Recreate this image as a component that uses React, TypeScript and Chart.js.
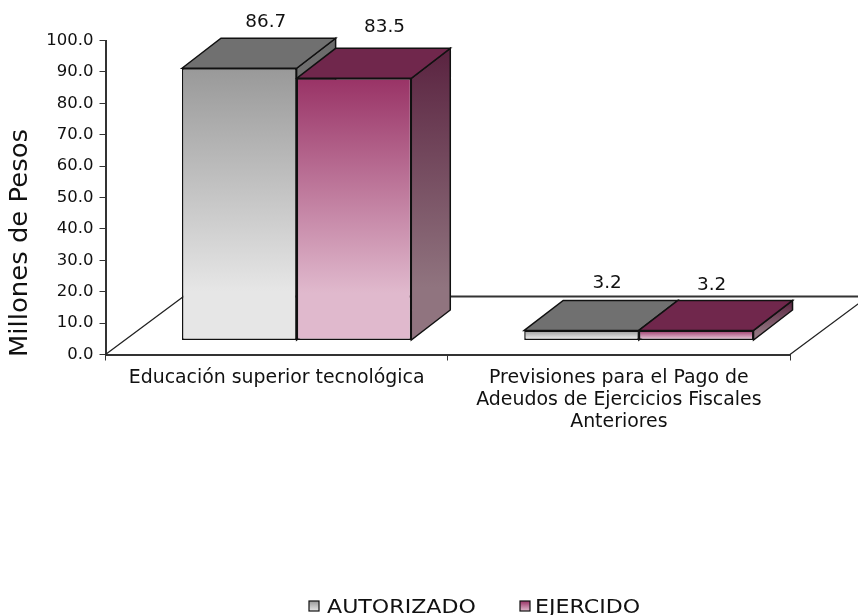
import React, { useEffect, useRef } from "react";
import { Chart, registerables } from "chart.js";

Chart.register(...registerables);

const categories = [
  "Educación superior tecnológica",
  ["Previsiones para el Pago de", "Adeudos de Ejercicios Fiscales", "Anteriores"],
];
const autorizado = [86.7, 3.2];
const ejercido = [83.5, 3.2];
const seriesNames = ["AUTORIZADO", "EJERCIDO"];
const yTitle = "Millones de Pesos";

const FONT = '"DejaVu Sans", sans-serif';
const SHIFT_X = 20;
const SHIFT_Y = -14;
const DEPTH_X = 39;
const DEPTH_Y = -30;
const FLOOR_X = 78;
const FLOOR_Y = -58;
const labelNudge = [
  [[7, 0], [6, -1]],
  [[11, -5], [-4, 1]],
];

const palette = [
  { top: "#707070", front: ["#999999", "#e6e6e6"], side: ["#6a6a6a", "#909090"] },
  { top: "#70274c", front: ["#993366", "#e0b9cd"], side: ["#5a2340", "#90747f"] },
];

function grad(ctx: CanvasRenderingContext2D, y0: number, y1: number, c: string[]) {
  const g = ctx.createLinearGradient(0, y0, 0, y1);
  g.addColorStop(0, c[0]);
  g.addColorStop(0.82, c[1]);
  g.addColorStop(1, c[1]);
  return g;
}

function poly(ctx: CanvasRenderingContext2D, pts: number[][], fill: any) {
  ctx.beginPath();
  pts.forEach((p, i) => (i ? ctx.lineTo(p[0], p[1]) : ctx.moveTo(p[0], p[1])));
  ctx.closePath();
  ctx.fillStyle = fill;
  ctx.fill();
  ctx.strokeStyle = "#111111";
  ctx.lineWidth = 1.5;
  ctx.stroke();
}

const threeD = {
  id: "threeD",
  beforeDatasetsDraw(chart: any) {
    const { ctx, chartArea: a } = chart;
    ctx.save();
    ctx.strokeStyle = "#222222";
    ctx.lineWidth = 1.3;
    ctx.beginPath();
    ctx.moveTo(a.left, a.bottom);
    ctx.lineTo(a.left + FLOOR_X, a.bottom + FLOOR_Y);
    ctx.moveTo(a.right, a.bottom);
    ctx.lineTo(a.right + FLOOR_X, a.bottom + FLOOR_Y);
    ctx.stroke();
    ctx.strokeStyle = "#333333";
    ctx.lineWidth = 2;
    ctx.beginPath();
    ctx.moveTo(a.left + FLOOR_X, a.bottom + FLOOR_Y);
    ctx.lineTo(a.right + FLOOR_X, a.bottom + FLOOR_Y);
    ctx.stroke();
    ctx.translate(SHIFT_X, SHIFT_Y);
    palette.forEach((pal, i) => {
      chart.getDatasetMeta(i).data.forEach((bar: any) => {
        const l = bar.x - bar.width / 2;
        const r = bar.x + bar.width / 2;
        const t = bar.y;
        const b = bar.base;
        poly(ctx, [[r, t], [r + DEPTH_X, t + DEPTH_Y], [r + DEPTH_X, b + DEPTH_Y], [r, b]],
          grad(ctx, t + DEPTH_Y, b, pal.side));
        poly(ctx, [[l, t], [l + DEPTH_X, t + DEPTH_Y], [r + DEPTH_X, t + DEPTH_Y], [r, t]], pal.top);
        bar.options.backgroundColor = grad(ctx, t, b, pal.front);
      });
    });
    ctx.restore();
  },
  beforeDatasetDraw(chart: any) {
    chart.ctx.save();
    chart.ctx.translate(SHIFT_X, SHIFT_Y);
  },
  afterDatasetDraw(chart: any, args: any) {
    const { ctx } = chart;
    ctx.restore();
    const meta = chart.getDatasetMeta(args.index);
    const vals = chart.data.datasets[args.index].data;
    ctx.save();
    ctx.fillStyle = "#111111";
    ctx.font = `18.4px ${FONT}`;
    ctx.textAlign = "center";
    ctx.textBaseline = "alphabetic";
    meta.data.forEach((bar: any, j: number) => {
      const n = labelNudge[args.index][j];
      const x = bar.x + SHIFT_X + DEPTH_X / 2 + n[0];
      const y = bar.y + SHIFT_Y + DEPTH_Y - 11.5 + n[1];
      ctx.fillText(vals[j].toFixed(1), x, y);
    });
    ctx.restore();
  },
  afterDraw(chart: any) {
    const { ctx } = chart;
    ctx.save();
    ctx.fillStyle = "#111111";
    ctx.font = `24px ${FONT}`;
    ctx.textAlign = "center";
    ctx.textBaseline = "middle";
    ctx.translate(21, 243);
    ctx.rotate(-Math.PI / 2);
    ctx.scale(1.08, 1);
    ctx.fillText(yTitle, 0, 0);
    ctx.restore();

    const items = [
      { box: 309, text: 327 },
      { box: 520, text: 535 },
    ];
    ctx.save();
    ctx.font = `19.5px ${FONT}`;
    ctx.textBaseline = "alphabetic";
    ctx.textAlign = "left";
    items.forEach((it, i) => {
      const g = ctx.createLinearGradient(0, 601, 0, 611);
      g.addColorStop(0, palette[i].front[0]);
      g.addColorStop(1, palette[i].front[1]);
      ctx.fillStyle = g;
      ctx.strokeStyle = "#111111";
      ctx.lineWidth = 1.2;
      ctx.fillRect(it.box, 601, 10, 10);
      ctx.strokeRect(it.box, 601, 10, 10);
      ctx.fillStyle = "#111111";
      ctx.save();
      ctx.translate(it.text, 613);
      ctx.scale(1.135, 1);
      ctx.fillText(seriesNames[i], 0, 0);
      ctx.restore();
    });
    ctx.restore();
  },
};

export default function App() {
  const ref = useRef<HTMLCanvasElement>(null);
  useEffect(() => {
    const chart = new Chart(ref.current!, {
      type: "bar",
      data: {
        labels: categories as any,
        datasets: [
          { label: seriesNames[0], data: autorizado, backgroundColor: () => "#cccccc", borderColor: "#111111", borderWidth: 1.5, borderSkipped: false, clip: false } as any,
          { label: seriesNames[1], data: ejercido, backgroundColor: () => "#cc99b3", borderColor: "#111111", borderWidth: 1.5, borderSkipped: false, clip: false } as any,
        ],
      },
      options: {
        responsive: false,
        animation: false,
        layout: { padding: { top: 40.5, right: 68, left: 0, bottom: 0 } },
        datasets: { bar: { categoryPercentage: 0.67, barPercentage: 1 } },
        plugins: { legend: { display: false }, tooltip: { enabled: false } },
        scales: {
          x: {
            offset: true,
            grid: { offset: true, drawOnChartArea: false, tickLength: 6, color: "#333333" },
            border: { color: "#333333", width: 2 },
            ticks: { color: "#111111", font: { family: FONT, size: 18.9, lineHeight: 1.16 }, padding: 7, maxRotation: 0, autoSkip: false },
            afterFit: (s: any) => { s.height = 615 - 354.5; },
          },
          y: {
            min: 0,
            max: 100,
            grid: { drawOnChartArea: false, tickLength: 6, color: "#333333" },
            border: { color: "#333333", width: 2 },
            ticks: { stepSize: 10, color: "#111111", font: { family: FONT, size: 16.5 }, padding: 6, callback: (v: any) => Number(v).toFixed(1) },
            afterFit: (s: any) => { s.width = 105.5; },
          },
        },
      },
      plugins: [threeD],
    } as any);
    return () => chart.destroy();
  }, []);
  return (
    <canvas
      ref={ref}
      width={858}
      height={615}
      style={{ position: "absolute", left: 0, top: 0, display: "block" }}
    />
  );
}
